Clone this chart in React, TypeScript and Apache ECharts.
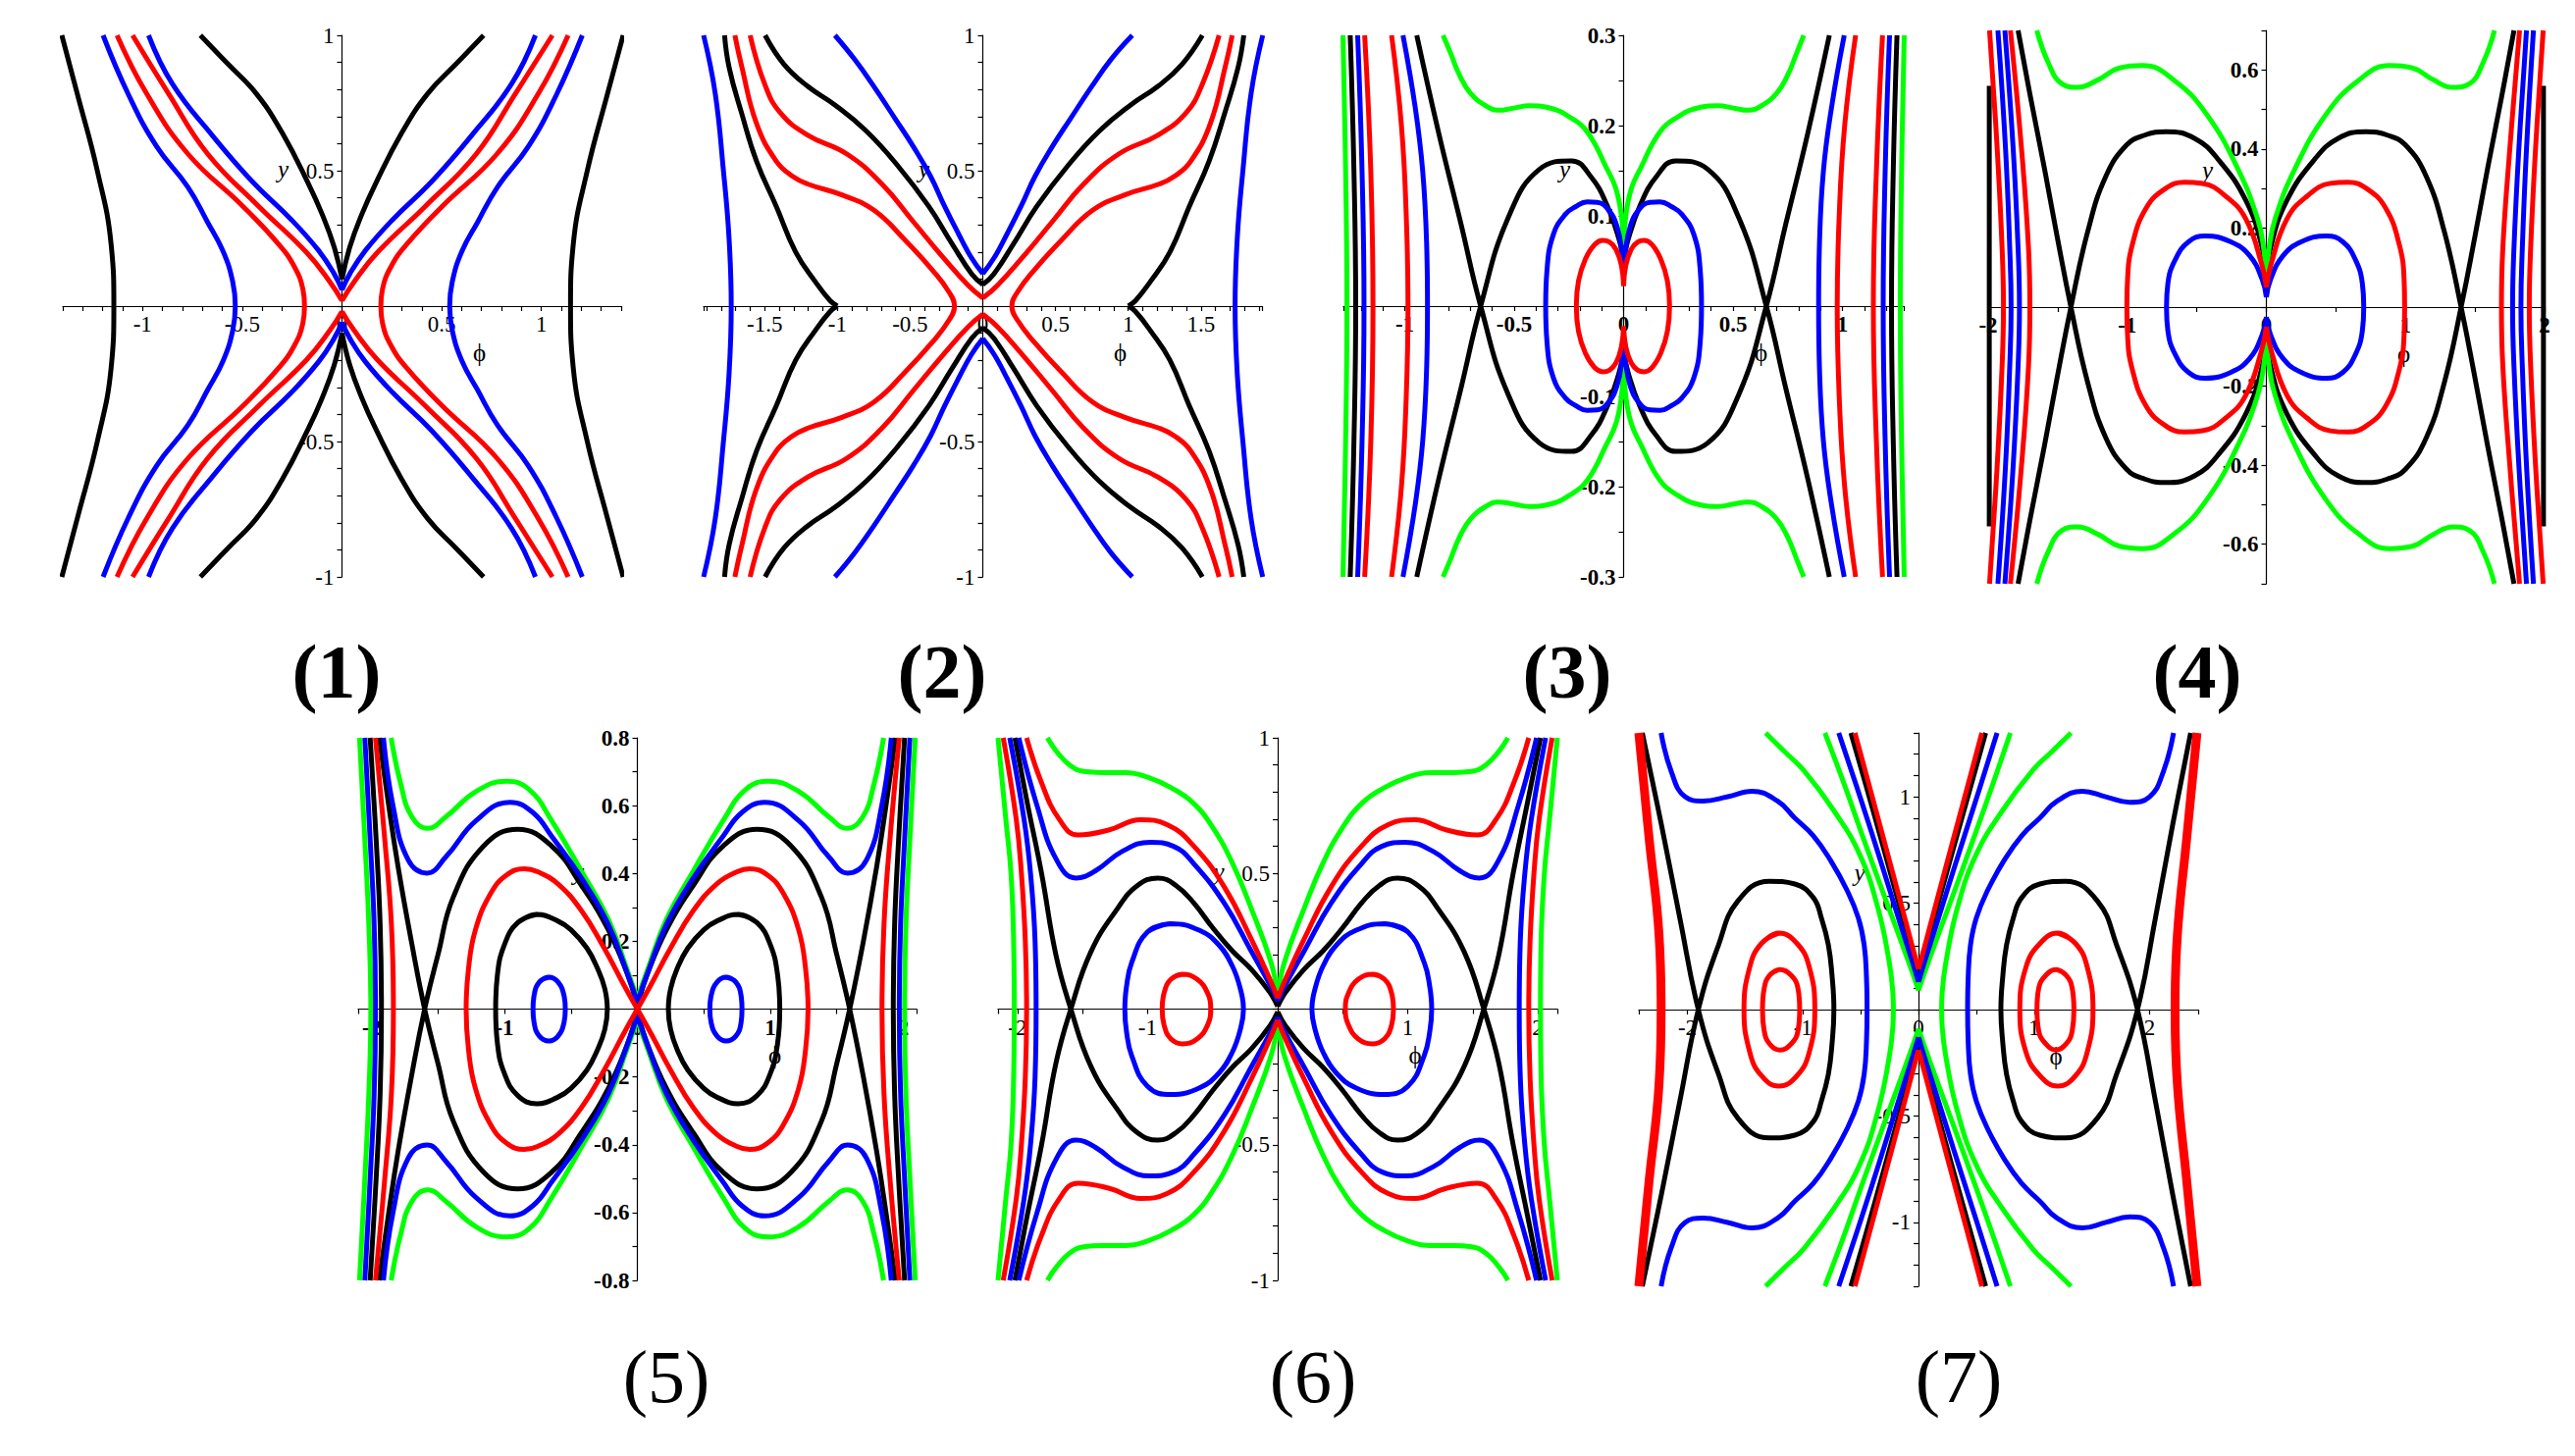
import React, { useEffect, useRef } from "react";
import * as echarts from "echarts";

// ---------- gap marker between curves of one colour ----------
const GAP = ["-", "-"];

// ================= Panel 1 =================
const p1BlackOuterL = [[-1.405,1],[-1.326,0.78],[-1.227,0.5],[-1.158,0.23],[-1.144,0],[-1.158,-0.23],[-1.227,-0.5],[-1.326,-0.78],[-1.405,-1]];
const p1BlackOuterR = [[1.41,1],[1.33,0.78],[1.23,0.5],[1.16,0.23],[1.146,0],[1.16,-0.23],[1.23,-0.5],[1.33,-0.78],[1.41,-1]];
const p1BlackVTL = [[-0.71,1],[-0.58,0.9],[-0.43,0.785],[-0.3,0.64],[-0.167,0.45],[-0.1,0.34],[-0.04,0.22],[0,0.1]];
const p1BlackVTR = [[0,0.1],[0.04,0.22],[0.1,0.34],[0.167,0.45],[0.3,0.64],[0.43,0.785],[0.58,0.9],[0.71,1]];
const p1BlackVBL = [[-0.71,-1],[-0.58,-0.9],[-0.43,-0.785],[-0.3,-0.64],[-0.167,-0.45],[-0.1,-0.34],[-0.04,-0.22],[0,-0.1]];
const p1BlackVBR = [[0,-0.1],[0.04,-0.22],[0.1,-0.34],[0.167,-0.45],[0.3,-0.64],[0.43,-0.785],[0.58,-0.9],[0.71,-1]];
const p1BlueHypL = [[-1.198,1],[-1.07,0.78],[-0.93,0.59],[-0.773,0.44],[-0.674,0.31],[-0.595,0.2],[-0.548,0.09],[-0.535,0],[-0.548,-0.09],[-0.595,-0.2],[-0.674,-0.31],[-0.773,-0.44],[-0.93,-0.59],[-1.07,-0.78],[-1.198,-1]];
const p1BlueHypR = [[1.205,1],[1.075,0.78],[0.935,0.59],[0.78,0.44],[0.68,0.31],[0.6,0.2],[0.553,0.09],[0.54,0],[0.553,-0.09],[0.6,-0.2],[0.68,-0.31],[0.78,-0.44],[0.935,-0.59],[1.075,-0.78],[1.205,-1]];
const p1BlueVTL = [[-0.97,1],[-0.85,0.82],[-0.65,0.63],[-0.45,0.46],[-0.255,0.32],[-0.117,0.205],[-0.04,0.12],[0,0.06]];
const p1BlueVTR = [[0,0.06],[0.04,0.12],[0.117,0.205],[0.255,0.32],[0.45,0.46],[0.65,0.63],[0.85,0.82],[0.97,1]];
const p1BlueVBL = [[-0.97,-1],[-0.85,-0.82],[-0.65,-0.63],[-0.45,-0.46],[-0.255,-0.32],[-0.117,-0.205],[-0.04,-0.12],[0,-0.06]];
const p1BlueVBR = [[0,-0.06],[0.04,-0.12],[0.117,-0.205],[0.255,-0.32],[0.45,-0.46],[0.65,-0.63],[0.85,-0.82],[0.97,-1]];
const p1RedHypL = [[-1.128,1],[-0.98,0.785],[-0.773,0.5625],[-0.496,0.368],[-0.318,0.229],[-0.239,0.146],[-0.196,0.0625],[-0.188,0],[-0.196,-0.0625],[-0.239,-0.146],[-0.318,-0.229],[-0.496,-0.368],[-0.773,-0.5625],[-0.98,-0.785],[-1.128,-1]];
const p1RedHypR = [[1.134,1],[0.985,0.785],[0.778,0.5625],[0.502,0.368],[0.325,0.229],[0.246,0.146],[0.203,0.0625],[0.195,0],[0.203,-0.0625],[0.246,-0.146],[0.325,-0.229],[0.502,-0.368],[0.778,-0.5625],[0.985,-0.785],[1.134,-1]];
const p1RedVTL = [[-1.05,1],[-0.87,0.785],[-0.674,0.5625],[-0.417,0.368],[-0.18,0.2],[-0.061,0.09],[0,0.02]];
const p1RedVTR = [[0,0.02],[0.061,0.09],[0.18,0.2],[0.417,0.368],[0.674,0.5625],[0.87,0.785],[1.055,1]];
const p1RedVBL = [[-1.05,-1],[-0.87,-0.785],[-0.674,-0.5625],[-0.417,-0.368],[-0.18,-0.2],[-0.061,-0.09],[0,-0.02]];
const p1RedVBR = [[0,-0.02],[0.061,-0.09],[0.18,-0.2],[0.417,-0.368],[0.674,-0.5625],[0.87,-0.785],[1.055,-1]];

// ================= Panel 2 =================
const p2BlueOuterL = [[-1.92,1],[-1.84,0.785],[-1.785,0.507],[-1.745,0.25],[-1.73,0],[-1.745,-0.25],[-1.785,-0.507],[-1.84,-0.785],[-1.92,-1]];
const p2BlueOuterR = [[1.925,1],[1.845,0.785],[1.79,0.507],[1.75,0.25],[1.735,0],[1.75,-0.25],[1.79,-0.507],[1.845,-0.785],[1.925,-1]];
const p2BlackCuspLT = [[-1.776,1],[-1.744,0.88],[-1.66,0.715],[-1.556,0.535],[-1.42,0.368],[-1.287,0.2],[-1.152,0.09],[-1.05,0.02],[-1,0]];
const p2BlackCuspLB = [[-1,0],[-1.05,-0.02],[-1.152,-0.09],[-1.287,-0.2],[-1.42,-0.368],[-1.556,-0.535],[-1.66,-0.715],[-1.744,-0.88],[-1.776,-1]];
const p2BlackCuspRT = [[1,0],[1.05,0.02],[1.152,0.09],[1.287,0.2],[1.42,0.368],[1.556,0.535],[1.665,0.715],[1.755,0.88],[1.795,1]];
const p2BlackCuspRB = [[1,0],[1.05,-0.02],[1.152,-0.09],[1.287,-0.2],[1.42,-0.368],[1.556,-0.535],[1.665,-0.715],[1.755,-0.88],[1.795,-1]];
const p2BlackVTL = [[-1.497,1],[-1.367,0.893],[-1.206,0.8125],[-1.017,0.743],[-0.8,0.646],[-0.587,0.52],[-0.371,0.368],[-0.21,0.229],[-0.075,0.118],[0,0.08]];
const p2BlackVTR = [[0,0.08],[0.075,0.118],[0.21,0.229],[0.371,0.368],[0.587,0.52],[0.8,0.646],[1.017,0.743],[1.206,0.8125],[1.37,0.893],[1.51,1]];
const p2BlackVBL = [[-1.497,-1],[-1.367,-0.893],[-1.206,-0.8125],[-1.017,-0.743],[-0.8,-0.646],[-0.587,-0.52],[-0.371,-0.368],[-0.21,-0.229],[-0.075,-0.118],[0,-0.08]];
const p2BlackVBR = [[0,-0.08],[0.075,-0.118],[0.21,-0.229],[0.371,-0.368],[0.587,-0.52],[0.8,-0.646],[1.017,-0.743],[1.206,-0.8125],[1.37,-0.893],[1.51,-1]];
const p2BlueVTL = [[-1.017,1],[-0.88,0.91],[-0.748,0.81],[-0.6,0.69],[-0.479,0.59],[-0.36,0.48],[-0.264,0.37],[-0.17,0.27],[-0.08,0.18],[0,0.12]];
const p2BlueVTR = [[0,0.12],[0.08,0.18],[0.17,0.27],[0.264,0.37],[0.36,0.48],[0.479,0.59],[0.6,0.69],[0.748,0.81],[0.88,0.91],[1.028,1]];
const p2BlueVBL = [[-1.017,-1],[-0.88,-0.91],[-0.748,-0.81],[-0.6,-0.69],[-0.479,-0.59],[-0.36,-0.48],[-0.264,-0.37],[-0.17,-0.27],[-0.08,-0.18],[0,-0.12]];
const p2BlueVBR = [[0,-0.12],[0.08,-0.18],[0.17,-0.27],[0.264,-0.37],[0.36,-0.48],[0.479,-0.59],[0.6,-0.69],[0.748,-0.81],[0.88,-0.91],[1.028,-1]];
const p2RedHypL = [[-1.705,1],[-1.66,0.89],[-1.556,0.674],[-1.42,0.535],[-1.31,0.48],[-1.206,0.451],[-0.964,0.41],[-0.748,0.354],[-0.533,0.243],[-0.345,0.132],[-0.23,0.05],[-0.195,0],[-0.23,-0.05],[-0.345,-0.132],[-0.533,-0.243],[-0.748,-0.354],[-0.964,-0.41],[-1.206,-0.451],[-1.31,-0.48],[-1.42,-0.535],[-1.556,-0.674],[-1.66,-0.89],[-1.705,-1]];
const p2RedHypR = [[1.715,1],[1.67,0.89],[1.565,0.674],[1.43,0.535],[1.32,0.48],[1.215,0.451],[0.972,0.41],[0.755,0.354],[0.54,0.243],[0.352,0.132],[0.236,0.05],[0.2,0],[0.236,-0.05],[0.352,-0.132],[0.54,-0.243],[0.755,-0.354],[0.972,-0.41],[1.215,-0.451],[1.32,-0.48],[1.43,-0.535],[1.565,-0.674],[1.67,-0.89],[1.715,-1]];
const p2RedVTL = [[-1.6,1],[-1.5,0.82],[-1.394,0.715],[-1.206,0.632],[-0.937,0.5625],[-0.694,0.451],[-0.479,0.3125],[-0.264,0.174],[-0.1,0.076],[0,0.03]];
const p2RedVTR = [[0,0.03],[0.1,0.076],[0.264,0.174],[0.479,0.3125],[0.694,0.451],[0.937,0.5625],[1.206,0.632],[1.4,0.715],[1.51,0.82],[1.625,1]];
const p2RedVBL = [[-1.6,-1],[-1.5,-0.82],[-1.394,-0.715],[-1.206,-0.632],[-0.937,-0.5625],[-0.694,-0.451],[-0.479,-0.3125],[-0.264,-0.174],[-0.1,-0.076],[0,-0.03]];
const p2RedVBR = [[0,-0.03],[0.1,-0.076],[0.264,-0.174],[0.479,-0.3125],[0.694,-0.451],[0.937,-0.5625],[1.206,-0.632],[1.4,-0.715],[1.51,-0.82],[1.625,-1]];

// ================= Panel 3 =================
const p3GreenOL = [[-1.282,0.3],[-1.27,0.15],[-1.264,0],[-1.27,-0.15],[-1.282,-0.3]];
const p3BlackOL = [[-1.249,0.3],[-1.232,0.15],[-1.224,0],[-1.232,-0.15],[-1.249,-0.3]];
const p3BlueOL = [[-1.215,0.3],[-1.195,0.15],[-1.186,0],[-1.195,-0.15],[-1.215,-0.3]];
const p3RedOL = [[-1.183,0.3],[-1.155,0.15],[-1.145,0],[-1.155,-0.15],[-1.183,-0.3]];
const p3GreenOR = [[1.282,0.3],[1.27,0.15],[1.264,0],[1.27,-0.15],[1.282,-0.3]];
const p3BlackOR = [[1.249,0.3],[1.232,0.15],[1.224,0],[1.232,-0.15],[1.249,-0.3]];
const p3BlueOR = [[1.215,0.3],[1.195,0.15],[1.186,0],[1.195,-0.15],[1.215,-0.3]];
const p3RedOR = [[1.183,0.3],[1.155,0.15],[1.141,0],[1.155,-0.15],[1.183,-0.3]];
const p3RedIL = [[-1.06,0.3],[-1.015,0.2],[-0.993,0.1],[-0.985,0],[-0.993,-0.1],[-1.015,-0.2],[-1.06,-0.3]];
const p3RedIR = [[1.06,0.3],[1.01,0.2],[0.985,0.1],[0.976,0],[0.985,-0.1],[1.01,-0.2],[1.06,-0.3]];
const p3BlueIL = [[-1.008,0.3],[-0.952,0.22],[-0.918,0.15],[-0.9,0.07],[-0.896,0],[-0.9,-0.07],[-0.918,-0.15],[-0.952,-0.22],[-1.008,-0.3]];
const p3BlueIR = [[1.008,0.3],[0.95,0.22],[0.913,0.15],[0.895,0.07],[0.891,0],[0.895,-0.07],[0.913,-0.15],[0.95,-0.22],[1.008,-0.3]];
const p3BlackSepRA = [[0,0.05],[0.022,0.075],[0.076,0.112],[0.148,0.143],[0.238,0.161],[0.382,0.152],[0.526,0.098],[0.652,0],[0.74,-0.09],[0.84,-0.19],[0.94,-0.3]];
const p3BlackSepRB = [[0.94,0.3],[0.84,0.19],[0.74,0.09],[0.652,0],[0.526,-0.098],[0.382,-0.152],[0.238,-0.161],[0.148,-0.143],[0.076,-0.112],[0.022,-0.075],[0,-0.05]];
const p3BlackSepLA = [[0,0.05],[-0.022,0.075],[-0.076,0.112],[-0.148,0.143],[-0.238,0.161],[-0.382,0.152],[-0.527,0.098],[-0.653,0],[-0.742,-0.09],[-0.843,-0.19],[-0.945,-0.3]];
const p3BlackSepLB = [[-0.945,0.3],[-0.843,0.19],[-0.742,0.09],[-0.653,0],[-0.527,-0.098],[-0.382,-0.152],[-0.238,-0.161],[-0.148,-0.143],[-0.076,-0.112],[-0.022,-0.075],[0,-0.05]];
const p3BlueLoopR = [[0,0.03],[0.008,0.06],[0.03,0.088],[0.07,0.107],[0.12,0.115],[0.166,0.1155],[0.22,0.11],[0.265,0.102],[0.32,0.08],[0.35,0.04],[0.356,0],[0.35,-0.04],[0.32,-0.08],[0.265,-0.102],[0.22,-0.11],[0.166,-0.1155],[0.12,-0.115],[0.07,-0.107],[0.03,-0.088],[0.008,-0.06],[0,-0.03]];
const p3BlueLoopL = [[0,0.03],[-0.008,0.06],[-0.03,0.088],[-0.07,0.107],[-0.12,0.115],[-0.166,0.1155],[-0.22,0.11],[-0.265,0.102],[-0.32,0.08],[-0.35,0.04],[-0.356,0],[-0.35,-0.04],[-0.32,-0.08],[-0.265,-0.102],[-0.22,-0.11],[-0.166,-0.1155],[-0.12,-0.115],[-0.07,-0.107],[-0.03,-0.088],[-0.008,-0.06],[0,-0.03]];
const p3RedLoopR = [[0,0.022],[0.01,0.045],[0.035,0.063],[0.065,0.071],[0.094,0.0727],[0.13,0.068],[0.17,0.052],[0.2,0.028],[0.21,0],[0.2,-0.028],[0.17,-0.052],[0.13,-0.068],[0.094,-0.0727],[0.065,-0.071],[0.035,-0.063],[0.01,-0.045],[0,-0.022]];
const p3RedLoopL = [[0,0.022],[-0.01,0.045],[-0.035,0.063],[-0.065,0.071],[-0.096,0.0727],[-0.133,0.068],[-0.175,0.052],[-0.206,0.028],[-0.216,0],[-0.206,-0.028],[-0.175,-0.052],[-0.133,-0.068],[-0.096,-0.0727],[-0.065,-0.071],[-0.035,-0.063],[-0.01,-0.045],[0,-0.022]];
const p3GreenTR = [[0,0.06],[0.01,0.1],[0.035,0.13],[0.076,0.152],[0.166,0.193],[0.25,0.21],[0.33,0.219],[0.43,0.222],[0.51,0.219],[0.57,0.217],[0.63,0.222],[0.7,0.236],[0.75,0.256],[0.79,0.28],[0.823,0.3]];
const p3GreenTL = [[0,0.06],[-0.01,0.1],[-0.035,0.13],[-0.076,0.152],[-0.166,0.193],[-0.25,0.21],[-0.33,0.219],[-0.43,0.222],[-0.51,0.219],[-0.57,0.217],[-0.63,0.222],[-0.7,0.236],[-0.75,0.256],[-0.79,0.28],[-0.825,0.3]];
const p3GreenBR = [[0,-0.06],[0.01,-0.1],[0.035,-0.13],[0.076,-0.152],[0.166,-0.193],[0.25,-0.21],[0.33,-0.219],[0.43,-0.222],[0.51,-0.219],[0.57,-0.217],[0.63,-0.222],[0.7,-0.236],[0.75,-0.256],[0.79,-0.28],[0.823,-0.3]];
const p3GreenBL = [[0,-0.06],[-0.01,-0.1],[-0.035,-0.13],[-0.076,-0.152],[-0.166,-0.193],[-0.25,-0.21],[-0.33,-0.219],[-0.43,-0.222],[-0.51,-0.219],[-0.57,-0.217],[-0.63,-0.222],[-0.7,-0.236],[-0.75,-0.256],[-0.79,-0.28],[-0.825,-0.3]];

// ================= Panel 4 =================
const p4RedAL = [[-1.84,0.7],[-1.76,0.4],[-1.71,0.15],[-1.7,0],[-1.71,-0.15],[-1.76,-0.4],[-1.84,-0.7]];
const p4BlueAL = [[-1.88,0.7],[-1.82,0.4],[-1.785,0.15],[-1.775,0],[-1.785,-0.15],[-1.82,-0.4],[-1.88,-0.7]];
const p4BlueBL = [[-1.93,0.7],[-1.875,0.4],[-1.845,0.15],[-1.835,0],[-1.845,-0.15],[-1.875,-0.4],[-1.93,-0.7]];
const p4RedBL = [[-1.99,0.7],[-1.935,0.4],[-1.9,0.15],[-1.89,0],[-1.9,-0.15],[-1.935,-0.4],[-1.99,-0.7]];
const p4RedAR = [[1.82,0.7],[1.75,0.4],[1.7,0.15],[1.69,0],[1.7,-0.15],[1.75,-0.4],[1.82,-0.7]];
const p4BlueAR = [[1.87,0.7],[1.815,0.4],[1.78,0.15],[1.77,0],[1.78,-0.15],[1.815,-0.4],[1.87,-0.7]];
const p4BlueBR = [[1.92,0.7],[1.87,0.4],[1.84,0.15],[1.83,0],[1.84,-0.15],[1.87,-0.4],[1.92,-0.7]];
const p4RedBR = [[1.99,0.7],[1.935,0.4],[1.9,0.15],[1.89,0],[1.9,-0.15],[1.935,-0.4],[1.99,-0.7]];
const p4BlackClipL = [[-1.992,0.56],[-1.992,-0.555]];
const p4BlackClipR = [[1.992,0.56],[1.992,-0.555]];
const p4BlackSepRA = [[0,0.06],[0.03,0.15],[0.148,0.27],[0.347,0.374],[0.517,0.427],[0.716,0.444],[0.87,0.435],[1.0,0.41],[1.15,0.33],[1.28,0.19],[1.4,0],[1.5,-0.18],[1.59,-0.35],[1.69,-0.53],[1.78,-0.7]];
const p4BlackSepRB = [[1.78,0.7],[1.69,0.53],[1.59,0.35],[1.5,0.18],[1.4,0],[1.28,-0.19],[1.15,-0.33],[1.0,-0.41],[0.87,-0.435],[0.716,-0.444],[0.517,-0.427],[0.347,-0.374],[0.148,-0.27],[0.03,-0.15],[0,-0.06]];
const p4BlackSepLA = [[0,0.06],[-0.03,0.15],[-0.148,0.27],[-0.347,0.374],[-0.517,0.427],[-0.72,0.444],[-0.875,0.435],[-1.005,0.41],[-1.155,0.33],[-1.285,0.19],[-1.405,0],[-1.505,-0.18],[-1.595,-0.35],[-1.695,-0.53],[-1.785,-0.7]];
const p4BlackSepLB = [[-1.785,0.7],[-1.695,0.53],[-1.595,0.35],[-1.505,0.18],[-1.405,0],[-1.285,-0.19],[-1.155,-0.33],[-1.005,-0.41],[-0.875,-0.435],[-0.72,-0.444],[-0.517,-0.427],[-0.347,-0.374],[-0.148,-0.27],[-0.03,-0.15],[0,-0.06]];
const p4RedLoopR = [[0,0.05],[0.034,0.109],[0.148,0.223],[0.29,0.28],[0.46,0.313],[0.588,0.316],[0.72,0.3],[0.858,0.25],[0.957,0.156],[0.99,0.07],[0.994,0],[0.99,-0.07],[0.957,-0.156],[0.858,-0.25],[0.72,-0.3],[0.588,-0.316],[0.46,-0.313],[0.29,-0.28],[0.148,-0.223],[0.034,-0.109],[0,-0.05]];
const p4RedLoopL = [[0,0.05],[-0.034,0.109],[-0.148,0.223],[-0.29,0.28],[-0.46,0.313],[-0.59,0.316],[-0.725,0.3],[-0.865,0.25],[-0.965,0.156],[-0.998,0.07],[-1.003,0],[-0.998,-0.07],[-0.965,-0.156],[-0.865,-0.25],[-0.725,-0.3],[-0.59,-0.316],[-0.46,-0.313],[-0.29,-0.28],[-0.148,-0.223],[-0.034,-0.109],[0,-0.05]];
const p4BlueLoopR = [[0,0.025],[0.03,0.07],[0.12,0.13],[0.25,0.165],[0.432,0.18],[0.55,0.165],[0.64,0.12],[0.69,0.06],[0.7,0],[0.69,-0.06],[0.64,-0.12],[0.55,-0.165],[0.432,-0.18],[0.25,-0.165],[0.12,-0.13],[0.03,-0.07],[0,-0.025]];
const p4BlueLoopL = [[0,0.025],[-0.03,0.07],[-0.12,0.13],[-0.255,0.165],[-0.44,0.18],[-0.56,0.165],[-0.655,0.12],[-0.708,0.06],[-0.718,0],[-0.708,-0.06],[-0.655,-0.12],[-0.56,-0.165],[-0.44,-0.18],[-0.255,-0.165],[-0.12,-0.13],[-0.03,-0.07],[0,-0.025]];
const p4GreenTR = [[0,0.07],[0.02,0.15],[0.0625,0.223],[0.2,0.346],[0.43,0.488],[0.66,0.573],[0.886,0.611],[1.05,0.605],[1.2,0.575],[1.34,0.556],[1.46,0.565],[1.56,0.62],[1.64,0.7]];
const p4GreenTL = [[0,0.07],[-0.02,0.15],[-0.0625,0.223],[-0.2,0.346],[-0.43,0.488],[-0.66,0.573],[-0.889,0.611],[-1.055,0.605],[-1.21,0.575],[-1.358,0.556],[-1.47,0.565],[-1.57,0.62],[-1.65,0.7]];
const p4GreenBR = [[0,-0.07],[0.02,-0.15],[0.0625,-0.223],[0.2,-0.346],[0.43,-0.488],[0.66,-0.573],[0.886,-0.611],[1.05,-0.605],[1.2,-0.575],[1.34,-0.556],[1.46,-0.565],[1.56,-0.62],[1.64,-0.7]];
const p4GreenBL = [[0,-0.07],[-0.02,-0.15],[-0.0625,-0.223],[-0.2,-0.346],[-0.43,-0.488],[-0.66,-0.573],[-0.889,-0.611],[-1.055,-0.605],[-1.21,-0.575],[-1.358,-0.556],[-1.47,-0.565],[-1.57,-0.62],[-1.65,-0.7]];

// ================= Panel 5 =================
const p5RedLoopR = [[0,0],[0.1,0.07],[0.25,0.18],[0.42,0.29],[0.6,0.37],[0.75,0.405],[0.844,0.414],[0.98,0.395],[1.1,0.34],[1.213,0.234],[1.265,0.12],[1.284,0],[1.265,-0.12],[1.213,-0.234],[1.1,-0.34],[0.98,-0.395],[0.844,-0.414],[0.75,-0.405],[0.6,-0.37],[0.42,-0.29],[0.25,-0.18],[0.1,-0.07],[0,0]];
const p5RedLoopL = [[0,0],[-0.1,0.07],[-0.25,0.18],[-0.42,0.29],[-0.6,0.37],[-0.75,0.405],[-0.85,0.414],[-0.985,0.395],[-1.105,0.34],[-1.218,0.234],[-1.27,0.12],[-1.288,0],[-1.27,-0.12],[-1.218,-0.234],[-1.105,-0.34],[-0.985,-0.395],[-0.85,-0.414],[-0.75,-0.405],[-0.6,-0.37],[-0.42,-0.29],[-0.25,-0.18],[-0.1,-0.07],[0,0]];
const p5BlackLoopR = [[0.759,0.279],[0.9,0.255],[1.0,0.19],[1.055,0.1],[1.071,0],[1.055,-0.1],[1.0,-0.19],[0.9,-0.255],[0.759,-0.279],[0.6,-0.26],[0.5,-0.234],[0.38,-0.18],[0.3,-0.12],[0.25,-0.06],[0.233,0],[0.25,0.06],[0.3,0.12],[0.38,0.18],[0.5,0.234],[0.6,0.26],[0.759,0.279],[0.9,0.255]];
const p5BlackLoopL = [[-0.755,0.279],[-0.9,0.255],[-1.0,0.19],[-1.053,0.1],[-1.066,0],[-1.053,-0.1],[-1.0,-0.19],[-0.9,-0.255],[-0.755,-0.279],[-0.6,-0.26],[-0.5,-0.234],[-0.38,-0.18],[-0.3,-0.12],[-0.245,-0.06],[-0.226,0],[-0.245,0.06],[-0.3,0.12],[-0.38,0.18],[-0.5,0.234],[-0.6,0.26],[-0.755,0.279],[-0.9,0.255]];
const p5BlueLoopR = [[0.668,0.094],[0.74,0.08],[0.78,0.04],[0.787,0],[0.78,-0.04],[0.74,-0.08],[0.668,-0.094],[0.6,-0.08],[0.555,-0.04],[0.545,0],[0.555,0.04],[0.6,0.08],[0.668,0.094],[0.74,0.08]];
const p5BlueLoopL = [[-0.665,0.094],[-0.737,0.08],[-0.777,0.04],[-0.785,0],[-0.777,-0.04],[-0.737,-0.08],[-0.665,-0.094],[-0.597,-0.08],[-0.552,-0.04],[-0.542,0],[-0.552,0.04],[-0.597,0.08],[-0.665,0.094],[-0.737,0.08]];
const p5BlackSepRA = [[0,0.01],[0.077,0.105],[0.219,0.234],[0.418,0.363],[0.645,0.481],[0.9,0.53],[1.156,0.481],[1.384,0.331],[1.5,0.16],[1.597,0],[1.7,-0.2],[1.8,-0.42],[1.87,-0.6],[1.94,-0.8]];
const p5BlackSepRB = [[1.94,0.8],[1.87,0.6],[1.8,0.42],[1.7,0.2],[1.597,0],[1.5,-0.16],[1.384,-0.331],[1.156,-0.481],[0.9,-0.53],[0.645,-0.481],[0.418,-0.363],[0.219,-0.234],[0.077,-0.105],[0,-0.01]];
const p5BlackSepLA = [[0,0.01],[-0.077,0.105],[-0.219,0.234],[-0.418,0.363],[-0.645,0.481],[-0.9,0.53],[-1.156,0.481],[-1.384,0.331],[-1.5,0.16],[-1.6,0],[-1.7,-0.2],[-1.8,-0.42],[-1.87,-0.6],[-1.94,-0.8]];
const p5BlackSepLB = [[-1.94,0.8],[-1.87,0.6],[-1.8,0.42],[-1.7,0.2],[-1.6,0],[-1.5,-0.16],[-1.384,-0.331],[-1.156,-0.481],[-0.9,-0.53],[-0.645,-0.481],[-0.418,-0.363],[-0.219,-0.234],[-0.077,-0.105],[0,-0.01]];
const p5BlueWTR = [[0,0.02],[0.08,0.11],[0.219,0.25],[0.418,0.385],[0.645,0.51],[0.787,0.58],[0.957,0.61],[1.213,0.556],[1.44,0.449],[1.582,0.401],[1.724,0.44],[1.838,0.6],[1.91,0.8]];
const p5BlueWTL = [[0,0.02],[-0.08,0.11],[-0.219,0.25],[-0.418,0.385],[-0.645,0.51],[-0.787,0.58],[-0.957,0.61],[-1.213,0.556],[-1.44,0.449],[-1.582,0.401],[-1.724,0.44],[-1.838,0.6],[-1.91,0.8]];
const p5BlueWBR = [[0,-0.02],[0.08,-0.11],[0.219,-0.25],[0.418,-0.385],[0.645,-0.51],[0.787,-0.58],[0.957,-0.61],[1.213,-0.556],[1.44,-0.449],[1.582,-0.401],[1.724,-0.44],[1.838,-0.6],[1.91,-0.8]];
const p5BlueWBL = [[0,-0.02],[-0.08,-0.11],[-0.219,-0.25],[-0.418,-0.385],[-0.645,-0.51],[-0.787,-0.58],[-0.957,-0.61],[-1.213,-0.556],[-1.44,-0.449],[-1.582,-0.401],[-1.724,-0.44],[-1.838,-0.6],[-1.91,-0.8]];
const p5GreenWTR = [[0,0.03],[0.08,0.12],[0.219,0.265],[0.418,0.405],[0.645,0.556],[0.815,0.648],[0.986,0.672],[1.213,0.642],[1.44,0.567],[1.577,0.533],[1.696,0.567],[1.78,0.664],[1.852,0.8]];
const p5GreenWTL = [[0,0.03],[-0.08,0.12],[-0.219,0.265],[-0.418,0.405],[-0.645,0.556],[-0.815,0.648],[-0.986,0.672],[-1.213,0.642],[-1.44,0.567],[-1.577,0.533],[-1.696,0.567],[-1.78,0.664],[-1.852,0.8]];
const p5GreenWBR = [[0,-0.03],[0.08,-0.12],[0.219,-0.265],[0.418,-0.405],[0.645,-0.556],[0.815,-0.648],[0.986,-0.672],[1.213,-0.642],[1.44,-0.567],[1.577,-0.533],[1.696,-0.567],[1.78,-0.664],[1.852,-0.8]];
const p5GreenWBL = [[0,-0.03],[-0.08,-0.12],[-0.219,-0.265],[-0.418,-0.405],[-0.645,-0.556],[-0.815,-0.648],[-0.986,-0.672],[-1.213,-0.642],[-1.44,-0.567],[-1.577,-0.533],[-1.696,-0.567],[-1.78,-0.664],[-1.852,-0.8]];
const p5RedOR = [[1.97,0.8],[1.9,0.5],[1.855,0.25],[1.84,0],[1.855,-0.25],[1.9,-0.5],[1.97,-0.8]];
const p5BlackOR = [[2.01,0.8],[1.965,0.5],[1.935,0.25],[1.925,0],[1.935,-0.25],[1.965,-0.5],[2.01,-0.8]];
const p5BlueOR = [[2.05,0.8],[2.01,0.5],[1.98,0.25],[1.97,0],[1.98,-0.25],[2.01,-0.5],[2.05,-0.8]];
const p5GreenOR = [[2.09,0.8],[2.05,0.5],[2.02,0.25],[2.01,0],[2.02,-0.25],[2.05,-0.5],[2.09,-0.8]];
const p5RedOL = [[-1.97,0.8],[-1.9,0.5],[-1.85,0.25],[-1.835,0],[-1.85,-0.25],[-1.9,-0.5],[-1.97,-0.8]];
const p5BlackOL = [[-2.01,0.8],[-1.965,0.5],[-1.935,0.25],[-1.925,0],[-1.935,-0.25],[-1.965,-0.5],[-2.01,-0.8]];
const p5BlueOL = [[-2.05,0.8],[-2.01,0.5],[-1.98,0.25],[-1.97,0],[-1.98,-0.25],[-2.01,-0.5],[-2.05,-0.8]];
const p5GreenOL = [[-2.09,0.8],[-2.05,0.5],[-2.02,0.25],[-2.005,0],[-2.02,-0.25],[-2.05,-0.5],[-2.09,-0.8]];

// ================= Panel 6 =================
const p6RedLoopR = [[0.73,0.128],[0.82,0.11],[0.875,0.06],[0.89,0],[0.875,-0.06],[0.82,-0.11],[0.73,-0.128],[0.62,-0.11],[0.545,-0.06],[0.52,0],[0.545,0.06],[0.62,0.11],[0.73,0.128],[0.82,0.11]];
const p6RedLoopL = [[-0.73,0.128],[-0.82,0.11],[-0.873,0.06],[-0.888,0],[-0.873,-0.06],[-0.82,-0.11],[-0.73,-0.128],[-0.62,-0.11],[-0.54,-0.06],[-0.515,0],[-0.54,0.06],[-0.62,0.11],[-0.73,0.128],[-0.82,0.11]];
const p6BlueLoopR = [[0.819,0.315],[1.0,0.285],[1.126,0.172],[1.17,0.08],[1.184,0],[1.17,-0.08],[1.126,-0.172],[1.0,-0.285],[0.819,-0.315],[0.6,-0.29],[0.45,-0.235],[0.35,-0.16],[0.29,-0.08],[0.263,0],[0.29,0.08],[0.35,0.16],[0.45,0.235],[0.6,0.29],[0.819,0.315],[1.0,0.285]];
const p6BlueLoopL = [[-0.819,0.315],[-1.0,0.285],[-1.122,0.172],[-1.163,0.08],[-1.175,0],[-1.163,-0.08],[-1.122,-0.172],[-1.0,-0.285],[-0.819,-0.315],[-0.6,-0.29],[-0.45,-0.235],[-0.35,-0.16],[-0.29,-0.08],[-0.263,0],[-0.29,0.08],[-0.35,0.16],[-0.45,0.235],[-0.6,0.29],[-0.819,0.315],[-1.0,0.285]];
const p6BlackSepRA = [[0,0.01],[0.058,0.06],[0.2,0.145],[0.35,0.215],[0.5,0.3],[0.643,0.39],[0.78,0.455],[0.921,0.483],[1.08,0.455],[1.228,0.373],[1.433,0.212],[1.585,0],[1.7,-0.2],[1.81,-0.5],[1.92,-0.76],[2.02,-1]];
const p6BlackSepRB = [[2.02,1],[1.92,0.76],[1.81,0.5],[1.7,0.2],[1.585,0],[1.433,-0.212],[1.228,-0.373],[1.08,-0.455],[0.921,-0.483],[0.78,-0.455],[0.643,-0.39],[0.5,-0.3],[0.35,-0.215],[0.2,-0.145],[0.058,-0.06],[0,-0.01]];
const p6BlackSepLA = [[0,0.01],[-0.058,0.06],[-0.2,0.145],[-0.35,0.215],[-0.5,0.3],[-0.643,0.39],[-0.78,0.455],[-0.921,0.483],[-1.08,0.455],[-1.228,0.373],[-1.435,0.212],[-1.59,0],[-1.705,-0.2],[-1.815,-0.5],[-1.925,-0.76],[-2.02,-1]];
const p6BlackSepLB = [[-2.02,1],[-1.925,0.76],[-1.815,0.5],[-1.705,0.2],[-1.59,0],[-1.435,-0.212],[-1.228,-0.373],[-1.08,-0.455],[-0.921,-0.483],[-0.78,-0.455],[-0.643,-0.39],[-0.5,-0.3],[-0.35,-0.215],[-0.2,-0.145],[-0.058,-0.06],[0,-0.01]];
const p6BlueWTR = [[0,0.03],[0.06,0.09],[0.205,0.215],[0.41,0.39],[0.643,0.535],[0.8,0.6],[0.98,0.615],[1.2,0.58],[1.4,0.51],[1.55,0.483],[1.7,0.55],[1.85,0.75],[1.99,1]];
const p6BlueWTL = [[0,0.03],[-0.06,0.09],[-0.205,0.215],[-0.41,0.39],[-0.643,0.535],[-0.8,0.6],[-0.98,0.615],[-1.2,0.58],[-1.4,0.51],[-1.55,0.483],[-1.7,0.55],[-1.85,0.75],[-1.99,1]];
const p6BlueWBR = [[0,-0.03],[0.06,-0.09],[0.205,-0.215],[0.41,-0.39],[0.643,-0.535],[0.8,-0.6],[0.98,-0.615],[1.2,-0.58],[1.4,-0.51],[1.55,-0.483],[1.7,-0.55],[1.85,-0.75],[1.99,-1]];
const p6BlueWBL = [[0,-0.03],[-0.06,-0.09],[-0.205,-0.215],[-0.41,-0.39],[-0.643,-0.535],[-0.8,-0.6],[-0.98,-0.615],[-1.2,-0.58],[-1.4,-0.51],[-1.55,-0.483],[-1.7,-0.55],[-1.85,-0.75],[-1.99,-1]];
const p6RedWTR = [[0,0.04],[0.06,0.11],[0.205,0.26],[0.41,0.45],[0.643,0.6],[0.85,0.68],[1.053,0.698],[1.3,0.66],[1.535,0.642],[1.68,0.7],[1.82,0.84],[1.93,1]];
const p6RedWTL = [[0,0.04],[-0.06,0.11],[-0.205,0.26],[-0.41,0.45],[-0.643,0.6],[-0.85,0.68],[-1.053,0.698],[-1.3,0.66],[-1.535,0.642],[-1.68,0.7],[-1.82,0.84],[-1.93,1]];
const p6RedWBR = [[0,-0.04],[0.06,-0.11],[0.205,-0.26],[0.41,-0.45],[0.643,-0.6],[0.85,-0.68],[1.053,-0.698],[1.3,-0.66],[1.535,-0.642],[1.68,-0.7],[1.82,-0.84],[1.93,-1]];
const p6RedWBL = [[0,-0.04],[-0.06,-0.11],[-0.205,-0.26],[-0.41,-0.45],[-0.643,-0.6],[-0.85,-0.68],[-1.053,-0.698],[-1.3,-0.66],[-1.535,-0.642],[-1.68,-0.7],[-1.82,-0.84],[-1.93,-1]];
const p6GreenWTR = [[0,0.05],[0.05,0.17],[0.205,0.373],[0.35,0.54],[0.497,0.668],[0.65,0.76],[0.819,0.816],[1.0,0.855],[1.17,0.872],[1.35,0.872],[1.49,0.876],[1.6,0.9],[1.7,0.95],[1.77,1]];
const p6GreenWTL = [[0,0.05],[-0.05,0.17],[-0.205,0.373],[-0.35,0.54],[-0.497,0.668],[-0.65,0.76],[-0.819,0.816],[-1.0,0.855],[-1.17,0.872],[-1.35,0.872],[-1.49,0.876],[-1.6,0.9],[-1.7,0.95],[-1.77,1]];
const p6GreenWBR = [[0,-0.05],[0.05,-0.17],[0.205,-0.373],[0.35,-0.54],[0.497,-0.668],[0.65,-0.76],[0.819,-0.816],[1.0,-0.855],[1.17,-0.872],[1.35,-0.872],[1.49,-0.876],[1.6,-0.9],[1.7,-0.95],[1.77,-1]];
const p6GreenWBL = [[0,-0.05],[-0.05,-0.17],[-0.205,-0.373],[-0.35,-0.54],[-0.497,-0.668],[-0.65,-0.76],[-0.819,-0.816],[-1.0,-0.855],[-1.17,-0.872],[-1.35,-0.872],[-1.49,-0.876],[-1.6,-0.9],[-1.7,-0.95],[-1.77,-1]];
const p6BlueOR = [[2.06,1],[1.95,0.7],[1.9,0.5],[1.865,0.25],[1.857,0],[1.865,-0.25],[1.9,-0.5],[1.95,-0.7],[2.06,-1]];
const p6RedOR = [[2.11,1],[2.01,0.7],[1.97,0.5],[1.94,0.25],[1.93,0],[1.94,-0.25],[1.97,-0.5],[2.01,-0.7],[2.11,-1]];
const p6GreenOR = [[2.15,1],[2.09,0.7],[2.05,0.5],[2.025,0.25],[2.02,0],[2.025,-0.25],[2.05,-0.5],[2.09,-0.7],[2.15,-1]];
const p6BlueOL = [[-2.06,1],[-1.95,0.7],[-1.9,0.5],[-1.865,0.25],[-1.857,0],[-1.865,-0.25],[-1.9,-0.5],[-1.95,-0.7],[-2.06,-1]];
const p6RedOL = [[-2.11,1],[-2.01,0.7],[-1.97,0.5],[-1.94,0.25],[-1.93,0],[-1.94,-0.25],[-1.97,-0.5],[-2.01,-0.7],[-2.11,-1]];
const p6GreenOL = [[-2.15,1],[-2.09,0.7],[-2.05,0.5],[-2.03,0.25],[-2.025,0],[-2.03,-0.25],[-2.05,-0.5],[-2.09,-0.7],[-2.15,-1]];

// ================= Panel 7 =================
const p7BlackR = [[2.355,1.3],[2.2,0.87],[2.05,0.43],[1.895,0],[1.714,-0.304],[1.55,-0.509],[1.271,-0.603],[1.05,-0.59],[0.893,-0.526],[0.82,-0.43],[0.762,-0.304],[0.73,-0.16],[0.713,0],[0.73,0.16],[0.762,0.304],[0.82,0.43],[0.893,0.526],[1.05,0.59],[1.271,0.603],[1.55,0.509],[1.714,0.304],[1.895,0],[2.05,-0.43],[2.2,-0.87],[2.355,-1.3]];
const p7BlackL = [[-2.39,1.3],[-2.225,0.87],[-2.065,0.43],[-1.905,0],[-1.73,-0.304],[-1.565,-0.509],[-1.29,-0.603],[-1.07,-0.59],[-0.91,-0.526],[-0.84,-0.43],[-0.78,-0.304],[-0.748,-0.16],[-0.732,0],[-0.748,0.16],[-0.78,0.304],[-0.84,0.43],[-0.91,0.526],[-1.07,0.59],[-1.29,0.603],[-1.565,0.509],[-1.73,0.304],[-1.905,0],[-2.065,-0.43],[-2.225,-0.87],[-2.39,-1.3]];
const p7RedOuterLoopR = [[1.205,0.359],[1.36,0.31],[1.46,0.2],[1.51,0],[1.46,-0.2],[1.36,-0.31],[1.205,-0.36],[1.05,-0.31],[0.93,-0.2],[0.877,0],[0.93,0.2],[1.05,0.31],[1.205,0.359],[1.36,0.31]];
const p7RedOuterLoopL = [[-1.208,0.359],[-1.36,0.31],[-1.46,0.2],[-1.51,0],[-1.46,-0.2],[-1.36,-0.31],[-1.208,-0.36],[-1.05,-0.31],[-0.945,-0.2],[-0.897,0],[-0.945,0.2],[-1.05,0.31],[-1.208,0.359],[-1.36,0.31]];
const p7RedInnerLoopR = [[1.19,0.188],[1.28,0.16],[1.33,0.1],[1.345,0],[1.33,-0.1],[1.28,-0.16],[1.19,-0.19],[1.1,-0.16],[1.04,-0.1],[1.025,0],[1.04,0.1],[1.1,0.16],[1.19,0.188],[1.28,0.16]];
const p7RedInnerLoopL = [[-1.2,0.188],[-1.29,0.16],[-1.335,0.1],[-1.35,0],[-1.335,-0.1],[-1.29,-0.16],[-1.2,-0.19],[-1.1,-0.16],[-1.043,-0.1],[-1.028,0],[-1.043,0.1],[-1.1,0.16],[-1.2,0.188],[-1.29,0.16]];
const p7BlueCR = [[2.207,1.3],[2.12,1.12],[2.0,1.0],[1.829,0.974],[1.62,1.0],[1.419,1.026],[1.2,0.98],[1.05,0.9],[0.893,0.817],[0.74,0.7],[0.598,0.56],[0.5,0.43],[0.45,0.304],[0.43,0.15],[0.425,0],[0.43,-0.15],[0.45,-0.304],[0.5,-0.43],[0.598,-0.56],[0.74,-0.7],[0.893,-0.817],[1.05,-0.9],[1.2,-0.98],[1.419,-1.026],[1.62,-1.0],[1.829,-0.974],[2.0,-1.0],[2.12,-1.12],[2.207,-1.3]];
const p7BlueCL = [[-2.227,1.3],[-2.14,1.12],[-2.02,1.0],[-1.865,0.98],[-1.65,1.0],[-1.438,1.026],[-1.22,0.98],[-1.07,0.9],[-0.91,0.817],[-0.76,0.7],[-0.618,0.56],[-0.52,0.43],[-0.47,0.304],[-0.45,0.15],[-0.445,0],[-0.45,-0.15],[-0.47,-0.304],[-0.52,-0.43],[-0.618,-0.56],[-0.76,-0.7],[-0.91,-0.817],[-1.07,-0.9],[-1.22,-0.98],[-1.438,-1.026],[-1.65,-1.0],[-1.865,-0.98],[-2.02,-1.0],[-2.14,-1.12],[-2.227,-1.3]];
const p7GreenCR = [[1.32,1.3],[1.15,1.21],[0.99,1.125],[0.729,0.937],[0.5,0.73],[0.335,0.475],[0.236,0.219],[0.205,0.08],[0.2,0],[0.205,-0.08],[0.236,-0.219],[0.335,-0.475],[0.5,-0.73],[0.729,-0.937],[0.99,-1.125],[1.15,-1.21],[1.32,-1.3]];
const p7GreenCL = [[-1.323,1.3],[-1.155,1.21],[-0.995,1.125],[-0.735,0.937],[-0.51,0.73],[-0.35,0.475],[-0.252,0.219],[-0.222,0.08],[-0.217,0],[-0.222,-0.08],[-0.252,-0.219],[-0.35,-0.475],[-0.51,-0.73],[-0.735,-0.937],[-0.995,-1.125],[-1.155,-1.21],[-1.323,-1.3]];
const p7GreenVTR = [[0,0.09],[0.05,0.17],[0.15,0.32],[0.3,0.54],[0.5,0.84],[0.65,1.07],[0.795,1.3]];
const p7GreenVTL = [[0,0.09],[-0.05,0.17],[-0.15,0.32],[-0.3,0.54],[-0.5,0.84],[-0.65,1.07],[-0.81,1.3]];
const p7GreenVBR = [[0,-0.09],[0.05,-0.17],[0.15,-0.32],[0.3,-0.54],[0.5,-0.84],[0.65,-1.07],[0.795,-1.3]];
const p7GreenVBL = [[0,-0.09],[-0.05,-0.17],[-0.15,-0.32],[-0.3,-0.54],[-0.5,-0.84],[-0.65,-1.07],[-0.81,-1.3]];
const p7BlueVTR = [[0,0.13],[0.05,0.22],[0.15,0.39],[0.3,0.65],[0.5,0.99],[0.68,1.3]];
const p7BlueVTL = [[0,0.13],[-0.05,0.22],[-0.15,0.39],[-0.3,0.65],[-0.5,0.99],[-0.69,1.3]];
const p7BlueVBR = [[0,-0.13],[0.05,-0.22],[0.15,-0.39],[0.3,-0.65],[0.5,-0.99],[0.68,-1.3]];
const p7BlueVBL = [[0,-0.13],[-0.05,-0.22],[-0.15,-0.39],[-0.3,-0.65],[-0.5,-0.99],[-0.69,-1.3]];
const p7BlackVTR = [[0,0.17],[0.05,0.27],[0.15,0.46],[0.3,0.754],[0.45,1.045],[0.581,1.3]];
const p7BlackVTL = [[0,0.17],[-0.05,0.27],[-0.15,0.46],[-0.3,0.754],[-0.45,1.045],[-0.585,1.3]];
const p7BlackVBR = [[0,-0.17],[0.05,-0.27],[0.15,-0.46],[0.3,-0.754],[0.45,-1.045],[0.581,-1.3]];
const p7BlackVBL = [[0,-0.17],[-0.05,-0.27],[-0.15,-0.46],[-0.3,-0.754],[-0.45,-1.045],[-0.585,-1.3]];
const p7RedVTR = [[0,0.19],[0.05,0.29],[0.15,0.494],[0.3,0.798],[0.45,1.1],[0.548,1.3]];
const p7RedVTL = [[0,0.19],[-0.05,0.29],[-0.15,0.494],[-0.3,0.798],[-0.45,1.1],[-0.55,1.3]];
const p7RedVBR = [[0,-0.19],[0.05,-0.29],[0.15,-0.494],[0.3,-0.798],[0.45,-1.1],[0.548,-1.3]];
const p7RedVBL = [[0,-0.19],[-0.05,-0.29],[-0.15,-0.494],[-0.3,-0.798],[-0.45,-1.1],[-0.55,-1.3]];
const p7RedThickR = [[2.41,1.3],[2.32,0.8],[2.24,0.35],[2.22,0],[2.24,-0.35],[2.32,-0.8],[2.41,-1.3]];
const p7RedThickL = [[-2.42,1.3],[-2.33,0.8],[-2.245,0.35],[-2.227,0],[-2.245,-0.35],[-2.33,-0.8],[-2.42,-1.3]];

// ---------- curve groups per panel and colour ----------
const BLACK_CURVES = [
  [p1BlackOuterL, p1BlackOuterR, p1BlackVTL, p1BlackVTR, p1BlackVBL, p1BlackVBR],
  [p2BlackCuspLT, p2BlackCuspLB, p2BlackCuspRT, p2BlackCuspRB, p2BlackVTL, p2BlackVTR, p2BlackVBL, p2BlackVBR],
  [p3BlackOL, p3BlackOR, p3BlackSepRA, p3BlackSepRB, p3BlackSepLA, p3BlackSepLB],
  [p4BlackClipL, p4BlackClipR, p4BlackSepRA, p4BlackSepRB, p4BlackSepLA, p4BlackSepLB],
  [p5BlackLoopR, p5BlackLoopL, p5BlackSepRA, p5BlackSepRB, p5BlackSepLA, p5BlackSepLB, p5BlackOR, p5BlackOL],
  [p6BlackSepRA, p6BlackSepRB, p6BlackSepLA, p6BlackSepLB],
  [p7BlackR, p7BlackL, p7BlackVTR, p7BlackVTL, p7BlackVBR, p7BlackVBL],
];
const GREEN_CURVES = [
  [],
  [],
  [p3GreenOL, p3GreenOR, p3GreenTR, p3GreenTL, p3GreenBR, p3GreenBL],
  [p4GreenTR, p4GreenTL, p4GreenBR, p4GreenBL],
  [p5GreenWTR, p5GreenWTL, p5GreenWBR, p5GreenWBL, p5GreenOR, p5GreenOL],
  [p6GreenWTR, p6GreenWTL, p6GreenWBR, p6GreenWBL, p6GreenOR, p6GreenOL],
  [p7GreenCR, p7GreenCL, p7GreenVTR, p7GreenVTL, p7GreenVBR, p7GreenVBL],
];
const BLUE_CURVES = [
  [p1BlueHypL, p1BlueHypR, p1BlueVTL, p1BlueVTR, p1BlueVBL, p1BlueVBR],
  [p2BlueOuterL, p2BlueOuterR, p2BlueVTL, p2BlueVTR, p2BlueVBL, p2BlueVBR],
  [p3BlueOL, p3BlueOR, p3BlueIL, p3BlueIR, p3BlueLoopR, p3BlueLoopL],
  [p4BlueAL, p4BlueBL, p4BlueAR, p4BlueBR, p4BlueLoopR, p4BlueLoopL],
  [p5BlueLoopR, p5BlueLoopL, p5BlueWTR, p5BlueWTL, p5BlueWBR, p5BlueWBL, p5BlueOR, p5BlueOL],
  [p6BlueLoopR, p6BlueLoopL, p6BlueWTR, p6BlueWTL, p6BlueWBR, p6BlueWBL, p6BlueOR, p6BlueOL],
  [p7BlueCR, p7BlueCL, p7BlueVTR, p7BlueVTL, p7BlueVBR, p7BlueVBL],
];
const RED_CURVES = [
  [p1RedHypL, p1RedHypR, p1RedVTL, p1RedVTR, p1RedVBL, p1RedVBR],
  [p2RedHypL, p2RedHypR, p2RedVTL, p2RedVTR, p2RedVBL, p2RedVBR],
  [p3RedOL, p3RedOR, p3RedIL, p3RedIR, p3RedLoopR, p3RedLoopL],
  [p4RedAL, p4RedBL, p4RedAR, p4RedBR, p4RedLoopR, p4RedLoopL],
  [p5RedLoopR, p5RedLoopL, p5RedOR, p5RedOL],
  [p6RedLoopR, p6RedLoopL, p6RedWTR, p6RedWTL, p6RedWBR, p6RedWBL, p6RedOR, p6RedOL],
  [p7RedOuterLoopR, p7RedOuterLoopL, p7RedInnerLoopR, p7RedInnerLoopL, p7RedVTR, p7RedVTL, p7RedVBR, p7RedVBL],
];
const RED_THICK_CURVES = [[], [], [], [], [], [], [p7RedThickR, p7RedThickL]];

// ---------- axes ----------
const X_RANGES = [[-1.4, 1.4], [-1.92, 1.92], [-1.28, 1.28], [-2, 2], [-2.1, 2.1], [-2.15, 2.15], [-2.42, 2.42]];
const Y_RANGES = [[-1, 1], [-1, 1], [-0.3, 0.3], [-0.7, 0.7], [-0.8, 0.8], [-1, 1], [-1.3, 1.3]];
const X_TICK_STEPS = [0.1, 0.1, 0.1, 0.5, 0.5, 0.5, 0.5];
const X_LABEL_STEPS = [0.5, 0.5, 0.5, 1, 1, 1, 1];
const Y_TICK_STEPS = [0.1, 0.1, 0.05, 0.1, 0.1, 0.1, 0.1];
const Y_LABEL_STEPS = [0.5, 0.5, 0.1, 0.2, 0.2, 0.5, 0.5];
const BOLD_TICK_LABELS = [false, false, true, true, true, false, false];
const PANEL_TITLES = ["(1)", "(2)", "(3)", "(4)", "(5)", "(6)", "(7)"];
const AXIS_NAME_Y = "y";
const AXIS_NAME_X = "\u03D5";

// ---------- layout ----------
const GRIDS = [
  { left: 64, top: 36, width: 569, height: 552 },
  { left: 717, top: 36, width: 569, height: 552 },
  { left: 1369, top: 36, width: 571, height: 552 },
  { left: 2026, top: 31, width: 567, height: 564 },
  { left: 365, top: 752, width: 569, height: 553 },
  { left: 1017, top: 752, width: 570, height: 553 },
  { left: 1670, top: 747, width: 570, height: 564 },
];
const TITLE_POS = [[343, 684], [960, 684], [1597, 684], [2239, 684], [679, 1403], [1338, 1403], [1996, 1403]];
const COLORS = { black: "#000000", blue: "#0000ff", red: "#ff0000", green: "#00ff00" };
const FONT = "'Liberation Serif', 'Times New Roman', serif";

function joinCurves(curves: number[][][]) {
  const out: any[] = [];
  curves.forEach((c, i) => {
    if (i > 0) out.push(GAP);
    c.forEach((p) => out.push(p));
  });
  return out;
}

function makeFormatter(step: number, hideZero: boolean) {
  return (v: number) => {
    const k = v / step;
    if (Math.abs(k - Math.round(k)) > 1e-6) return "";
    if (hideZero && Math.abs(v) < 1e-9) return "";
    return String(Number(v.toFixed(4)));
  };
}

function buildOption() {
  const grid = GRIDS.map((g) => ({ ...g, containLabel: false }));
  const xAxis = X_RANGES.map((r, i) => {
    const yr = Y_RANGES[i];
    // move the axis from the bottom edge up to where y = 0 lies in the grid
    const offset = -GRIDS[i].height * (0 - yr[0]) / (yr[1] - yr[0]);
    return {
      type: "value",
      gridIndex: i,
      position: "bottom",
      offset,
      min: r[0],
      max: r[1],
      minInterval: X_TICK_STEPS[i],
      maxInterval: X_TICK_STEPS[i],
      splitNumber: 10,
      axisLine: { onZero: false, lineStyle: { color: "#000", width: 1.2 } },
      axisTick: { show: true, length: 5, lineStyle: { color: "#000", width: 1.2 } },
      splitLine: { show: false },
      axisLabel: {
        formatter: makeFormatter(X_LABEL_STEPS[i], false),
        fontFamily: FONT,
        fontSize: 23,
        fontWeight: BOLD_TICK_LABELS[i] ? "bold" : "normal",
        color: "#000",
        margin: 7,
        showMinLabel: true,
        showMaxLabel: true,
      },
    };
  });
  const yAxis = Y_RANGES.map((r, i) => {
    const xr = X_RANGES[i];
    const offset = -GRIDS[i].width * (0 - xr[0]) / (xr[1] - xr[0]);
    return {
      type: "value",
      gridIndex: i,
      position: "left",
      offset,
      min: r[0],
      max: r[1],
      minInterval: Y_TICK_STEPS[i],
      maxInterval: Y_TICK_STEPS[i],
      splitNumber: 10,
      axisLine: { onZero: false, lineStyle: { color: "#000", width: 1.2 } },
      axisTick: { show: true, length: 5, lineStyle: { color: "#000", width: 1.2 } },
      splitLine: { show: false },
      axisLabel: {
        formatter: makeFormatter(Y_LABEL_STEPS[i], true),
        fontFamily: FONT,
        fontSize: 23,
        fontWeight: BOLD_TICK_LABELS[i] ? "bold" : "normal",
        color: "#000",
        margin: 8,
        showMinLabel: true,
        showMaxLabel: true,
      },
    };
  });

  const series: any[] = [];
  const groups: [string, number[][][][], number][] = [
    ["black", BLACK_CURVES, 5],
    ["green", GREEN_CURVES, 5],
    ["blue", BLUE_CURVES, 5],
    ["red", RED_CURVES, 5],
    ["red", RED_THICK_CURVES, 9],
  ];
  for (let i = 0; i < GRIDS.length; i++) {
    groups.forEach(([color, table, width]) => {
      const curves = table[i];
      if (!curves || curves.length === 0) return;
      series.push({
        type: "line",
        xAxisIndex: i,
        yAxisIndex: i,
        data: joinCurves(curves),
        showSymbol: false,
        symbol: "none",
        smooth: 0.45,
        connectNulls: false,
        clip: true,
        silent: true,
        lineStyle: { color: (COLORS as any)[color], width, cap: "butt", join: "round" },
        z: 3,
      });
    });
  }

  return {
    animation: false,
    backgroundColor: "#ffffff",
    grid,
    xAxis,
    yAxis,
    series,
  };
}

export default function App() {
  const ref = useRef<HTMLDivElement>(null);
  useEffect(() => {
    document.body.style.margin = "0";
    document.body.style.background = "#ffffff";
    if (!ref.current) return;
    const chart = echarts.init(ref.current, null, { renderer: "svg" });
    chart.setOption(buildOption() as any);

    const elements: any[] = [];
    PANEL_TITLES.forEach((t, i) => {
      const bold = i < 4;
      elements.push({
        type: "text",
        x: TITLE_POS[i][0],
        y: TITLE_POS[i][1],
        style: {
          text: t,
          fontFamily: FONT,
          fontSize: bold ? 78 : 76,
          fontWeight: bold ? "bold" : "normal",
          fill: "#000",
          align: "center",
          verticalAlign: "middle",
          textAlign: "center",
          textVerticalAlign: "middle",
        },
      });
    });
    GRIDS.forEach((_, i) => {
      const o = chart.convertToPixel({ gridIndex: i } as any, [0, 0]) as number[];
      if (!o) return;
      elements.push({
        type: "text",
        x: o[0] - 60,
        y: o[1] - 140,
        z: 0,
        style: {
          text: AXIS_NAME_Y,
          fontFamily: FONT,
          fontSize: 25,
          fontStyle: "italic",
          fill: "#000",
          align: "center",
          verticalAlign: "middle",
          textAlign: "center",
          textVerticalAlign: "middle",
        },
      });
      elements.push({
        type: "text",
        x: o[0] + 140,
        y: o[1] + 47,
        z: 0,
        style: {
          text: AXIS_NAME_X,
          fontFamily: FONT,
          fontSize: 25,
          fill: "#000",
          align: "center",
          verticalAlign: "middle",
          textAlign: "center",
          textVerticalAlign: "middle",
        },
      });
    });
    chart.setOption({ graphic: { elements } } as any);
    return () => chart.dispose();
  }, []);
  return <div ref={ref} style={{ width: 2624, height: 1484 }} />;
}
